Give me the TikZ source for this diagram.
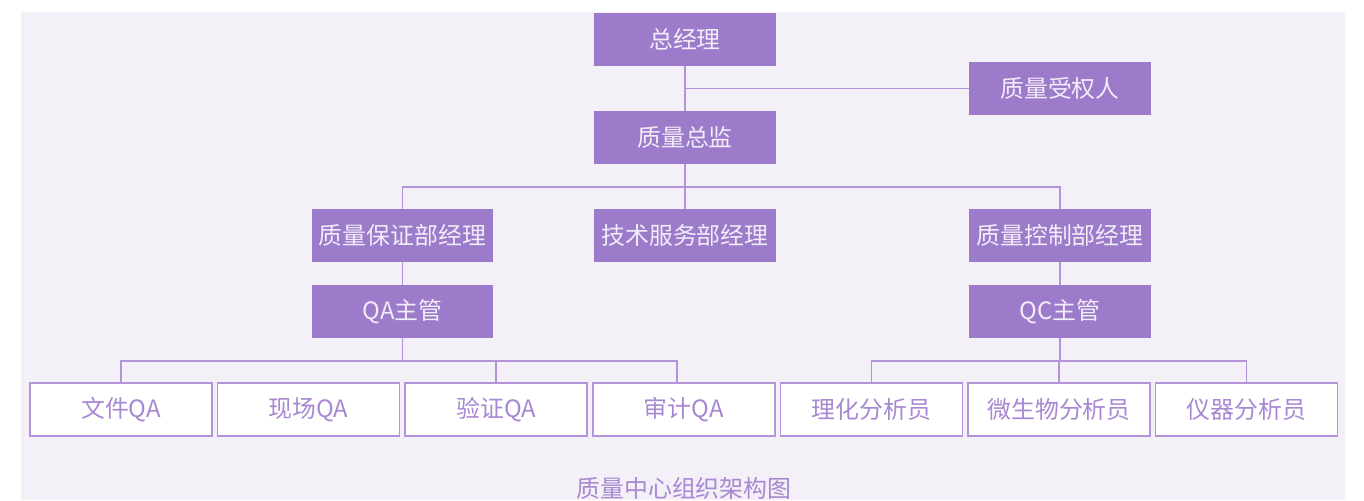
\documentclass[tikz,border=0pt]{standalone}
\usepackage{fontspec}
\setmainfont{Noto Sans CJK SC}
\usetikzlibrary{calc}

\definecolor{bgpurple}{HTML}{F3F0F7}
\definecolor{boxpurple}{HTML}{9C7BCA}
\definecolor{linepurple}{HTML}{B394DA}
\definecolor{textpurple}{HTML}{A888D2}
\definecolor{boxtext}{HTML}{F2ECF8}

\tikzset{
    head/.style={fill=boxpurple, text=boxtext, minimum width=3.64cm, minimum height=1.06cm, inner sep=0pt},
    leaf/.style={draw=linepurple, line width=0.9pt, fill=white, text=textpurple, minimum width=3.64cm, minimum height=1.06cm, inner sep=0pt},
    link/.style={draw=linepurple, line width=0.9pt}
}

\begin{document}
\begin{tikzpicture}[x=0.02cm, y=-0.02cm, font=\fontsize{13.6}{16}\selectfont]
        \useasboundingbox (0,0) rectangle (1364,500);
        \fill[bgpurple] (21,12) rectangle (1345,500);

        % top levels
        \node[head] (gm) at (685,39.5) {总经理};
        \node[head] (qp) at (1060,88.5) {质量受权人};
        \node[head] (qd) at (685,137.5) {质量总监};

        \node[head] (qam) at (402.5,235.5) {质量保证部经理};
        \node[head] (tsm) at (685,235.5) {技术服务部经理};
        \node[head] (qcm) at (1060,235.5) {质量控制部经理};

        \node[head] (qas) at (402.5,311.5) {QA主管};
        \node[head] (qcs) at (1060,311.5) {QC主管};

        % bottom row
        \foreach \name [count=\x from 0] in {文件QA,现场QA,验证QA,审计QA,理化分析员,微生物分析员,仪器分析员} {
            \node[leaf] (w_\x) at (121+\x*187.6,409.5) {\name};
        }

        \node[text=textpurple] (title) at (684,488) {质量中心组织架构图};

        \coordinate (bus_top) at (685,187);
        \coordinate (bus_qa) at (402.5,361);
        \coordinate (bus_qc) at (1060,361);

        \draw[link] (gm.south) -- (qd.north);
        \draw[link] (qp.west) -- (qp.west -| gm.south);
        \draw[link] (qd.south) -- (tsm.north);
        \draw[link] (qam.north) |- (bus_top) -| (qcm.north);

        \draw[link] (qam.south) -- (qas.north);
        \draw[link] (qcm.south) -- (qcs.north);

        \draw[link] (qas.south) -- (bus_qa);
        \draw[link] (w_0.north) |- (bus_qa) -| ([xshift=-4pt]w_3.north);
        \draw[link] (w_2.north) -- (w_2.north |- bus_qa);

        \draw[link] (qcs.south) -- (bus_qc);
        \draw[link] (w_4.north) |- (bus_qc) -| (w_6.north);
        \draw[link] (w_5.north) -- (w_5.north |- bus_qc);

    \end{tikzpicture}
\end{document}
